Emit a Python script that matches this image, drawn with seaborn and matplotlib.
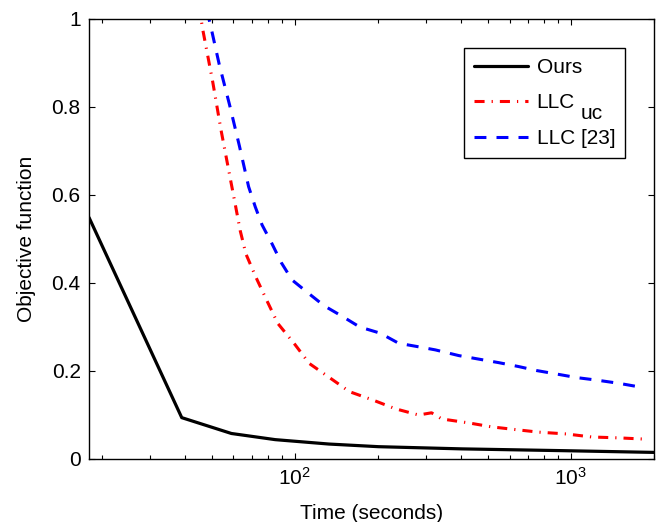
import matplotlib
matplotlib.use("Agg")
import matplotlib.pyplot as plt
import matplotlib.ticker as mticker
import seaborn as sns
import pandas as pd

# ---- data ----
ours_t = [18, 39, 59, 85, 133, 201, 403, 927, 2000]
ours_v = [0.549, 0.094, 0.058, 0.044, 0.034, 0.028, 0.023, 0.019, 0.015]

llcuc_t = [45, 46.5, 50.5, 54.1, 58.6, 61.0, 63.5, 66.6, 72.4, 79.3, 86.9, 100,
           113, 133, 158, 192, 232, 281, 313, 341, 427, 517, 648, 766, 960,
           1191, 1493, 1880]
llcuc_v = [1.03, 0.975, 0.857, 0.748, 0.634, 0.577, 0.519, 0.466, 0.413, 0.36,
           0.308, 0.261, 0.217, 0.186, 0.153, 0.134, 0.114, 0.10, 0.105, 0.091,
           0.082, 0.073, 0.066, 0.061, 0.057, 0.05, 0.048, 0.045]

llc_t = [48, 49.4, 53.3, 58.1, 63.1, 68.1, 72, 76.2, 82.8, 89.5, 97.8, 112, 128,
         148, 172, 204, 238, 281, 323, 393, 464, 548, 648, 752, 890, 1050, 1250,
         1493, 1800]
llc_v = [1.02, 0.99, 0.897, 0.805, 0.711, 0.619, 0.573, 0.532, 0.489, 0.446,
         0.407, 0.377, 0.348, 0.325, 0.30, 0.286, 0.263, 0.255, 0.248, 0.235,
         0.227, 0.219, 0.21, 0.201, 0.193, 0.185, 0.179, 0.172, 0.163]

labels = ["Ours", "LLC", "LLC [23]"]
llcuc_sub = "uc"
y_ticks = [0, 0.2, 0.4, 0.6, 0.8, 1]

# ---- style ----
sns.set_style("ticks")
plt.rcParams["font.family"] = ["Liberation Sans", "DejaVu Sans"]
plt.rcParams["mathtext.default"] = "regular"
plt.rcParams["mathtext.fontset"] = "custom"
plt.rcParams["mathtext.rm"] = "Liberation Sans"
for k in ["text.color", "axes.labelcolor", "xtick.color", "ytick.color",
          "axes.edgecolor"]:
    plt.rcParams[k] = "black"

W, H = 659, 522
fig = plt.figure(figsize=(W / 100, H / 100), dpi=100)
ax = fig.add_axes([89 / W, 63 / H, 565 / W, 440 / H])

df_ours = pd.DataFrame({"t": ours_t, "v": ours_v})
df_uc = pd.DataFrame({"t": llcuc_t, "v": llcuc_v})
df_llc = pd.DataFrame({"t": llc_t, "v": llc_v})

sns.lineplot(data=df_ours, x="t", y="v", ax=ax, color="black", lw=2.3,
             label=labels[0], estimator=None, sort=False)
sns.lineplot(data=df_uc, x="t", y="v", ax=ax, color=(1, 0, 0), lw=2.2,
             label=labels[1], estimator=None, sort=False)
sns.lineplot(data=df_llc, x="t", y="v", ax=ax, color=(0, 0, 1), lw=2.2,
             label=labels[2], estimator=None, sort=False)

lines = ax.get_lines()
lines[1].set_dashes((3.3, 2.3, 0.4, 2.3))
lines[2].set_dashes((3.9, 3.3))

ax.set_xscale("log")
ax.set_xlim(18, 2000)
ax.set_ylim(0, 1)
ax.set_yticks(y_ticks)
ax.yaxis.set_major_formatter(mticker.FormatStrFormatter("%g"))
ax.xaxis.set_minor_formatter(mticker.NullFormatter())

ax.tick_params(which="major", length=4.5, width=0.8, labelsize=15, pad=6,
               top=True, right=True, direction="in", colors="black")
ax.tick_params(which="minor", length=3, width=0.8, top=True, right=True,
               direction="in", colors="black")
for s in ax.spines.values():
    s.set_visible(True)
    s.set_linewidth(1.0)
    s.set_color("black")

ax.set_xlabel("Time (seconds)", fontsize=15)
ax.set_ylabel("Objective function", fontsize=15)
ax.xaxis.set_label_coords(0.5, -0.102)
ax.yaxis.set_label_coords(-0.0935, 0.5)

leg = ax.legend(loc="upper right", bbox_to_anchor=(0.949, 0.934),
                borderaxespad=0, fontsize=15, frameon=True, fancybox=False,
                edgecolor="black", framealpha=1, handlelength=2.6,
                handletextpad=0.4, labelspacing=0.79, borderpad=0.48)
leg.get_frame().set_linewidth(1.0)

# subscript "uc" drawn at full size, dropped below the "LLC" baseline
fig.canvas.draw()
renderer = fig.canvas.get_renderer()
bb = leg.get_texts()[1].get_window_extent(renderer)
descent = 0.212 * 15 * 100 / 72
fig.text((bb.x1 + 6) / W, (bb.y0 + descent - 11) / H, llcuc_sub,
         fontsize=15, va="baseline", ha="left", color="black")

fig.savefig("out.png", dpi=100)
